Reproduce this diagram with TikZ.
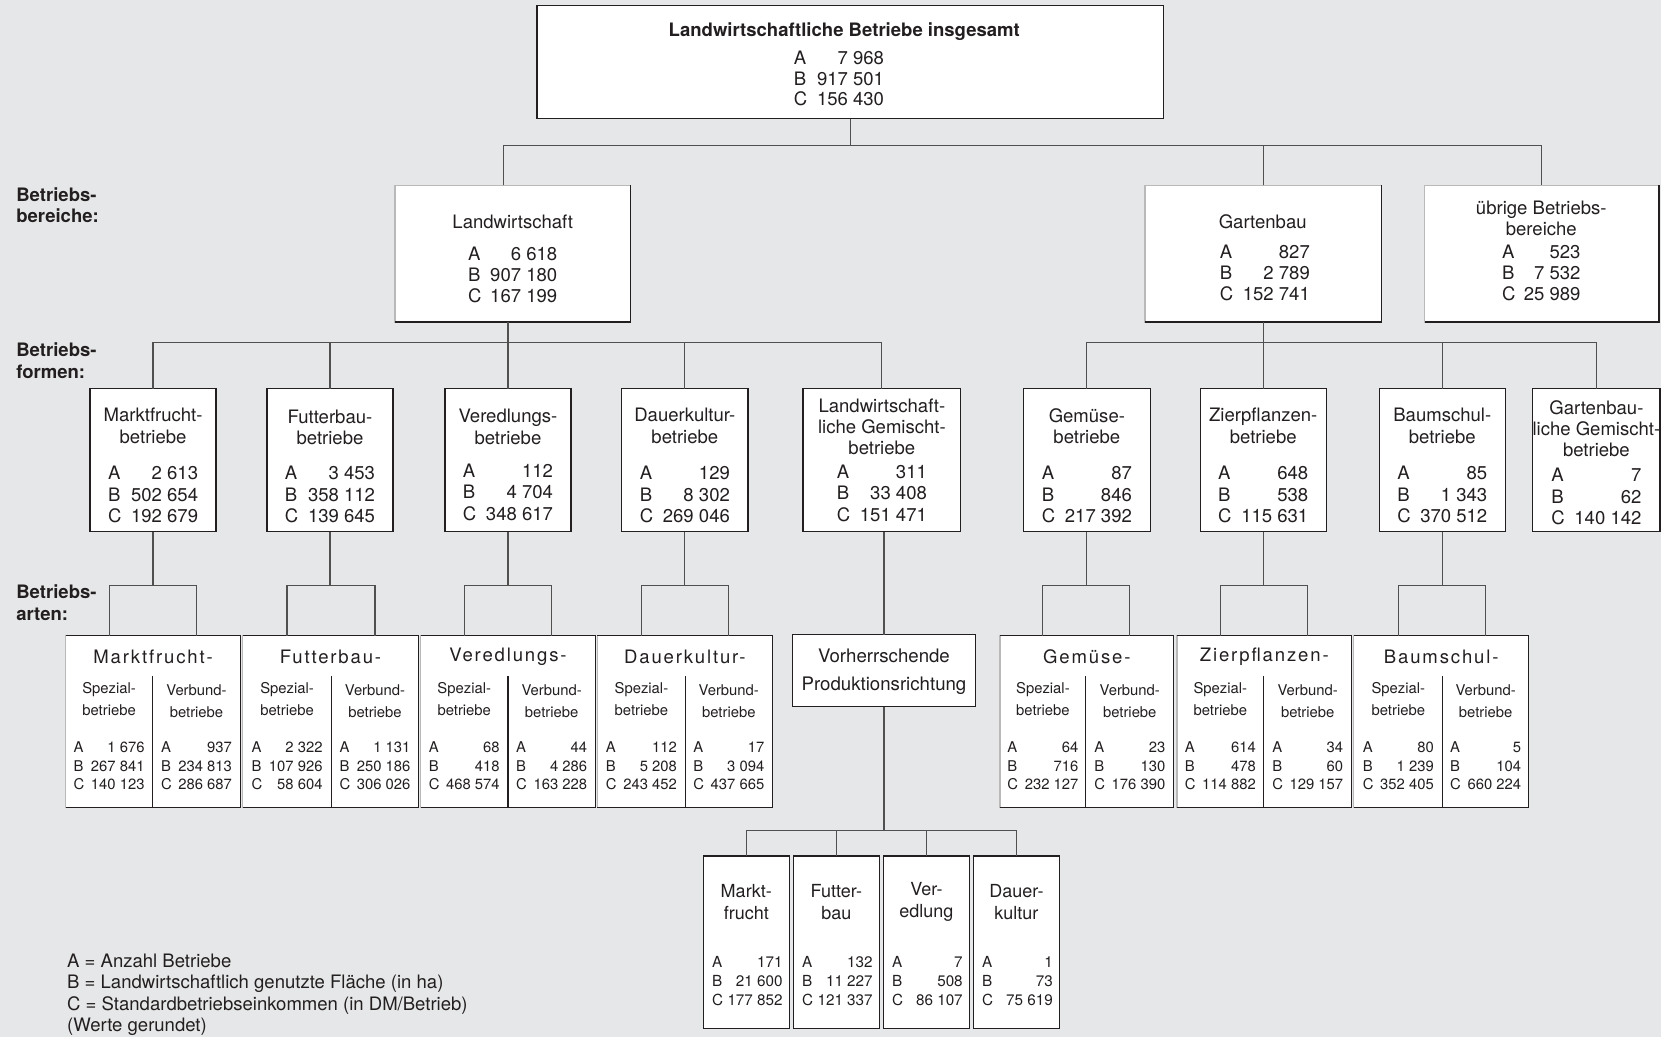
\documentclass[tikz,border=0pt]{standalone}
\usepackage{fontspec}
\setmainfont{TeX Gyre Heros}
\usetikzlibrary{calc}
\definecolor{bgcol}{RGB}{230,231,232}
\definecolor{boxcol}{RGB}{35,31,32}
\definecolor{conncol}{RGB}{80,80,80}
\definecolor{lightedge}{RGB}{185,185,185}
\newcommand\abc[4]{\begin{tabular*}{#1}{@{}l@{\extracolsep{\fill}}r@{}}A&#2\\B&#3\\C&#4\end{tabular*}}
\newcommand\bx[6][]{\node[box,#1,anchor=north west,minimum width={(#5-#3)*0.5pt},minimum height={(#6-#4)*0.5pt}] (#2) at (#3,#4) {};}
\newcommand\formbox[9]{%
  \node[box,anchor=north west,minimum width={(#3-#2)*0.5pt},minimum height={135*0.5pt}] (#1) at (#2,367) {};
  \node[txt] (#1t) at ({(#2+#3)/2},#8) {#4};
  \node[txt] (#1n) at ({(#2+#3)/2},#9) {\abc{42.5pt}{#5}{#6}{#7}};
}
\newcommand\artbox[7]{%
  \node[box,draw=lightedge,anchor=north west,minimum width={(#3-#2)*0.5pt},minimum height={162*0.5pt}] (#1) at (#2,600) {};
  \draw[edge] (#1.north west) -- (#1.north east) -- (#1.south east) -- (#1.south west);
  \draw[divl] (#4,638) -- (#4,762);
  \node[hdr] (#1h) at ({(#2+#3)/2},620) {#5};
  \node[sm] (#1s) at ({(#2+#4)/2},660) {Spezial-\\betriebe};
  \node[sm] (#1v) at ({(#4+#3)/2},662) {Verbund-\\betriebe};
  \node[num3] (#1sn) at ({(#2+#4)/2},724.5) {\abc{33.5pt}#6};
  \node[num3] (#1vn) at ({(#4+#3)/2},724.5) {\abc{33.5pt}#7};
}
\newcommand\kindbox[7]{%
  \node[box,anchor=north west,minimum width={(#3-#2)*0.5pt},minimum height={163*0.5pt}] (#1) at (#2,808) {};
  \node[txt,font=\fontsize{8.5}{10.5}\selectfont] (#1t) at ({(#2+#3)/2},851.5) {#4};
  \node[num3,font=\fontsize{7.2}{9}\selectfont] (#1n) at ({(#2+#3)/2+1},928) {\abc{33.3pt}{#5}{#6}{#7}};
}
\begin{document}
\begin{tikzpicture}[x=0.5pt,y=-0.5pt,
  box/.style={draw=boxcol,fill=white,line width=0.6pt,inner sep=0pt,outer sep=0pt},
  edge/.style={draw=boxcol,line width=0.6pt},
  divl/.style={draw=boxcol,line width=0.55pt},
  conn/.style={draw=conncol,line width=0.55pt},
  txt/.style={inner sep=0pt,align=center,text=boxcol,font=\fontsize{8.75}{10}\selectfont},
  hdr/.style={inner sep=0pt,align=center,text=boxcol,font=\fontsize{8.75}{10}\selectfont\addfontfeature{LetterSpace=10}},
  sm/.style={inner sep=0pt,align=center,text=boxcol,font=\fontsize{7}{10}\selectfont},
  num3/.style={inner sep=0pt,align=center,text=boxcol,font=\fontsize{7}{8.75}\selectfont},
  lbl/.style={inner sep=0pt,align=left,anchor=west,text=boxcol,font=\bfseries\fontsize{8.75}{10}\selectfont}]
\fill[bgcol] (0,0) rectangle (1568,979);
\useasboundingbox (0,0) rectangle (1568,979);

\coordinate (h1) at (0,137);
\coordinate (h2) at (0,323);
\coordinate (h3) at (0,553);
\coordinate (h4) at (0,784);

% side labels
\node[lbl] (l1) at (15,193.5) {Betriebs-\\bereiche:};
\node[lbl] (l2) at (15,340.5) {Betriebs-\\formen:};
\node[lbl] (l3) at (15,569) {Betriebs-\\arten:};

% top
\bx{top}{507}{5}{1098}{112}
\node[txt,font=\bfseries\fontsize{8.75}{10}\selectfont] (toptitle) at (797,30) {Landwirtschaftliche Betriebe insgesamt};
\node[txt,font=\fontsize{8.75}{9.75}\selectfont] (topnum) at (792,76.5) {\abc{42.5pt}{7~968}{917~501}{156~430}};

% level 1 (light top/left edges)
\bx[draw=lightedge]{lw}{373}{175}{595}{304}
\draw[edge] (lw.north east) -- (lw.south east) -- (lw.south west);
\node[txt] (lwt) at (484,209) {Landwirtschaft};
\node[txt] (lwn) at (484,262) {\abc{42pt}{6~618}{907~180}{167~199}};
\bx[draw=lightedge]{gb}{1081}{175}{1304}{304}
\draw[edge] (gb.north east) -- (gb.south east) -- (gb.south west);
\node[txt] (gbt) at (1192,209) {Gartenbau};
\node[txt] (gbn) at (1194,260) {\abc{42.5pt}{827}{2~789}{152~741}};
\bx[draw=lightedge]{ub}{1345}{175}{1566}{304}
\draw[edge] (ub.north east) -- (ub.south east) -- (ub.south west);
\node[txt] (ubt) at (1455,206) {übrige Betriebs-\\bereiche};
\node[txt] (ubn) at (1455,260) {\abc{37pt}{523}{7~532}{25~989}};

% level 2
\formbox{mf}{85}{204}{Marktfrucht-\\betriebe}{2~613}{502~654}{192~679}{402}{469}
\formbox{fb}{252}{371}{Futterbau-\\betriebe}{3~453}{358~112}{139~645}{403.5}{469}
\formbox{vd}{420}{539}{Veredlungs-\\betriebe}{112}{4~704}{348~617}{403}{467}
\formbox{dk}{587}{706}{Dauerkultur-\\betriebe}{129}{8~302}{269~046}{402}{469}
\formbox{lg}{758}{907}{Landwirtschaft-\\liche Gemischt-\\betriebe}{311}{33~408}{151~471}{403}{468}
\formbox{ge}{966}{1086}{Gemüse-\\betriebe}{87}{846}{217~392}{402}{469}
\formbox{zp}{1133}{1252}{Zierpflanzen-\\betriebe}{648}{538}{115~631}{402}{469}
\formbox{bs}{1302}{1421}{Baumschul-\\betriebe}{85}{1~343}{370~512}{402}{469}
\formbox{gg}{1447}{1567}{Gartenbau-\\liche Gemischt-\\betriebe}{7}{62}{140~142}{404.5}{471}

% level 3
\artbox{mfa}{62}{227}{144}{Marktfrucht-}{{1~676}{267~841}{140~123}}{{937}{234~813}{286~687}}
\artbox{fba}{229}{395}{313}{Futterbau-}{{2~322}{107~926}{58~604}}{{1~131}{250~186}{306~026}}
\artbox{vda}{397}{562}{479.5}{Veredlungs-}{{68}{418}{468~574}}{{44}{4~286}{163~228}}
\artbox{dka}{564}{729}{647}{Dauerkultur-}{{112}{5~208}{243~452}}{{17}{3~094}{437~665}}
\artbox{gea}{944}{1108}{1025}{Gemüse-}{{64}{716}{232~127}}{{23}{130}{176~390}}
\artbox{zpa}{1111}{1276}{1193}{Zierpflanzen-}{{614}{478}{114~882}}{{34}{60}{129~157}}
\artbox{bsa}{1278}{1443}{1362}{Baumschul-}{{80}{1~239}{352~405}}{{5}{104}{660~224}}

\bx{vo}{748}{599}{921}{667}
\node[txt,font=\fontsize{8.8}{13}\selectfont] (vot) at (834.5,634) {Vorherrschende\\Produktionsrichtung};

% bottom level
\kindbox{mk}{664}{745}{Markt-\\frucht}{171}{21~600}{177~852}
\kindbox{ft}{749}{830}{Futter-\\bau}{132}{11~227}{121~337}
\kindbox{ve}{834}{915}{Ver-\\edlung}{7}{508}{86~107}
\kindbox{da}{919}{1000}{Dauer-\\kultur}{1}{73}{75~619}

% legend
\node[inner sep=0pt,align=left,anchor=west,text=boxcol,font=\fontsize{8.75}{10}\selectfont] (legend) at (63,939)
  {A = Anzahl Betriebe\\B = Landwirtschaftlich genutzte Fläche (in ha)\\C = Standardbetriebseinkommen (in DM/Betrieb)\\(Werte gerundet)};

% connectors level 0 -> 1
\draw[conn] (top.south) -- (top.south |- h1);
\draw[conn] ([xshift=-4.5pt]lw.north) |- (ub.north |- h1) -- (ub.north);
\draw[conn] (gb.north) -- (gb.north |- h1);

% level 1 -> 2
\draw[conn] (mf.north) |- (lg.north |- h2) -- (lg.north);
\draw[conn] (fb.north) -- (fb.north |- h2);
\draw[conn] (vd.north) -- (vd.north |- lw.south);
\draw[conn] (dk.north) -- (dk.north |- h2);
\draw[conn] (ge.north) |- (gg.north |- h2) -- (gg.north);
\draw[conn] (zp.north) -- (zp.north |- gb.south);
\draw[conn] (bs.north) -- (bs.north |- h2);

% level 2 -> 3
\foreach \p/\q in {mf/mfa,fb/fba,vd/vda,dk/dka,ge/gea,zp/zpa,bs/bsa}{
  \draw[conn] (\p.south) -- (\p.south |- h3);
  \draw[conn] (\q s |- \q.north) |- (\q v |- h3) -- (\q v |- \q.north);
}
\draw[conn] (vo.north |- lg.south) -- (vo.north);
\draw[conn] (vo.south) -- (vo.south |- h4);
\draw[conn] (mk.north) |- (da.north |- h4) -- (da.north);
\draw[conn] (ft.north) -- (ft.north |- h4);
\draw[conn] (ve.north) -- (ve.north |- h4);
\end{tikzpicture}
\end{document}
